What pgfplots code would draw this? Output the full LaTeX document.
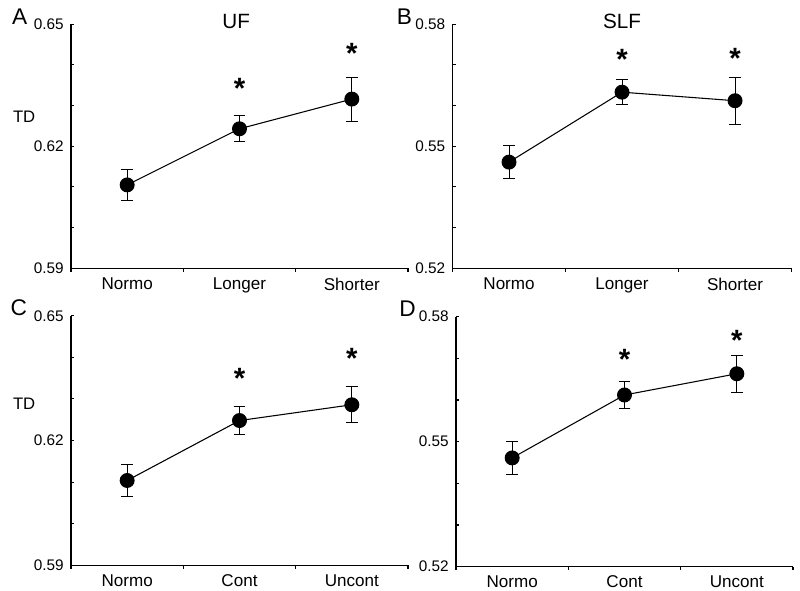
\documentclass[border=0pt]{standalone}
\usepackage{fontspec}
\setmainfont{Liberation Sans}
\usepackage{pgfplots}
\usepackage{pgfplotstable}
\pgfplotsset{compat=1.18}
\pgfplotstableread{
x y e
0 0.6105 0.0038
1 0.6243 0.0032
2 0.6316 0.0054
}\dataA
\pgfplotstableread{
x y e
0 0.5461 0.0040
1 0.5633 0.0031
2 0.5612 0.0058
}\dataB
\pgfplotstableread{
x y e
0 0.6104 0.0039
1 0.6248 0.0034
2 0.6286 0.0043
}\dataC
\pgfplotstableread{
x y e
0 0.5461 0.0040
1 0.5612 0.0032
2 0.5663 0.0044
}\dataD
\pgfplotsset{
 panel/.style={
  scale only axis, anchor=south west, clip=false,
  axis lines*=left,
  axis line style={line width=0.8pt, black},
  xmin=-0.5, xmax=2.5,
  xtick={0,1,2},
  minor xtick={-0.5,0.5,1.5,2.5},
  major x tick style={draw=none},
  xtick align=outside, ytick align=inside,
  major tick length=2.5pt, minor tick length=2.5pt,
  tick style={black, line width=0.8pt},
  xticklabel style={font=\fontsize{12.8}{15}\selectfont, yshift=-1pt},
  yticklabel style={font=\fontsize{11.5}{14}\selectfont, xshift=-2pt, /pgf/number format/.cd, fixed, fixed zerofill, precision=2, assume math mode=true},
 },
 ufaxis/.style={ymin=0.59, ymax=0.65, ytick={0.59,0.62,0.65}, minor ytick={0.60,0.61,0.63,0.64}},
 slfaxis/.style={ymin=0.52, ymax=0.58, ytick={0.52,0.55,0.58}, minor ytick={0.53,0.54,0.56,0.57}},
 series/.style={black, line width=0.8pt, mark=*, mark size=5.2pt, mark options={fill=black, solid},
  error bars/.cd, y dir=both, y explicit,
  error bar style={line width=0.8pt, black},
  error mark options={rotate=90, mark size=4.4pt, line width=0.8pt, black}},
}
\tikzset{
 star/.style={anchor=base, yshift=-12.6pt, font=\fontsize{22}{22}\selectfont\bfseries},
 letter/.style={font=\fontsize{17}{19}\selectfont},
 ttl/.style={font=\fontsize{15.5}{18}\selectfont},
 tdl/.style={font=\fontsize{12.5}{15}\selectfont},
}
\begin{document}
\begin{tikzpicture}
\useasboundingbox (0,0) rectangle (600pt,442.5pt);
% Panel A
\begin{axis}[panel, ufaxis, at={(53.25pt,241.3pt)}, width=252.75pt, height=183pt,
  xticklabels={Normo,Longer,Shorter}]
\addplot[series] table[x=x, y=y, y error=e] {\dataA};
\node[star] at (axis cs:1,0.6359) {*};
\node[star] at (axis cs:2,0.6445) {*};
\node[tdl] at (rel axis cs:-0.139,0.62) {TD};
\node[letter] at (rel axis cs:-0.152,1.033) {A};
\node[ttl] at (rel axis cs:0.49,1.013) {UF};
\end{axis}
% Panel B
\begin{axis}[panel, slfaxis, at={(339.4pt,241.3pt)}, width=254.25pt, height=183pt,
  xticklabels={Normo,Longer,Shorter}]
\addplot[series] table[x=x, y=y, y error=e] {\dataB};
\node[star] at (axis cs:1,0.5729) {*};
\node[star] at (axis cs:2,0.5733) {*};
\node[letter] at (rel axis cs:-0.1416,1.033) {B};
\node[ttl] at (rel axis cs:0.5,1.013) {SLF};
\end{axis}
% Panel C
\begin{axis}[panel, ufaxis, at={(53.25pt,18.5pt)}, width=252.75pt, height=187.2pt,
  xticklabels={Normo,Cont,Uncont}]
\addplot[series] table[x=x, y=y, y error=e] {\dataC};
\node[star] at (axis cs:1,0.6365) {*};
\node[star] at (axis cs:2,0.6413) {*};
\node[tdl] at (rel axis cs:-0.139,0.646) {TD};
\node[letter] at (rel axis cs:-0.155,1.033) {C};
\end{axis}
% Panel D
\begin{axis}[panel, slfaxis, at={(342pt,17.5pt)}, width=252.75pt, height=187.5pt,
  xticklabels={Normo,Cont,Uncont}]
\addplot[series] table[x=x, y=y, y error=e] {\dataD};
\node[star] at (axis cs:1,0.5714) {*};
\node[star] at (axis cs:2,0.5760) {*};
\node[letter] at (rel axis cs:-0.144,1.033) {D};
\end{axis}
\end{tikzpicture}
\end{document}
